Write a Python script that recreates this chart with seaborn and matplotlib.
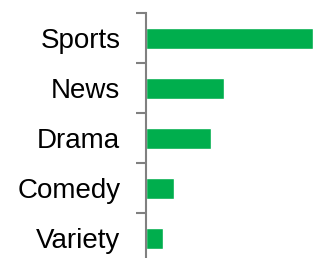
import matplotlib
matplotlib.use("Agg")
import matplotlib.pyplot as plt
import seaborn as sns
import pandas as pd
import numpy as np

categories = ["Sports", "News", "Drama", "Comedy", "Variety"]
values = [166, 78, 65, 28, 17]

df = pd.DataFrame({"genre": categories, "value": values})

sns.set_theme(style="white")
plt.rcParams["font.family"] = ["Liberation Sans", "DejaVu Sans"]

W, H = 313, 258
fig = plt.figure(figsize=(W / 100, H / 100), dpi=100)
ax = fig.add_axes([146 / W, -5 / H, 1 - 146 / W, 250 / H])

sns.barplot(data=df, y="genre", x="value", orient="h", color="#00AE4D",
            saturation=1, width=0.42, ax=ax)

ax.set_xlim(0, max(values))
ax.set_ylim(len(categories) - 0.5, -0.5)
ax.set_xlabel("")
ax.set_ylabel("")
ax.set_xticks([])
for s in ["top", "right", "bottom"]:
    ax.spines[s].set_visible(False)
ax.spines["left"].set_color("#808080")
ax.spines["left"].set_linewidth(1.5)

ax.set_yticks(range(len(categories)))
ax.set_yticklabels(categories, fontsize=20, color="black")
ax.tick_params(axis="y", which="major", length=0, pad=18.5)
ax.set_yticks(np.arange(-0.5, len(categories) + 0.5, 1), minor=True)
ax.tick_params(axis="y", which="minor", length=7.5, width=1.5, color="#808080", left=True)

fig.savefig("out.png", dpi=100)
